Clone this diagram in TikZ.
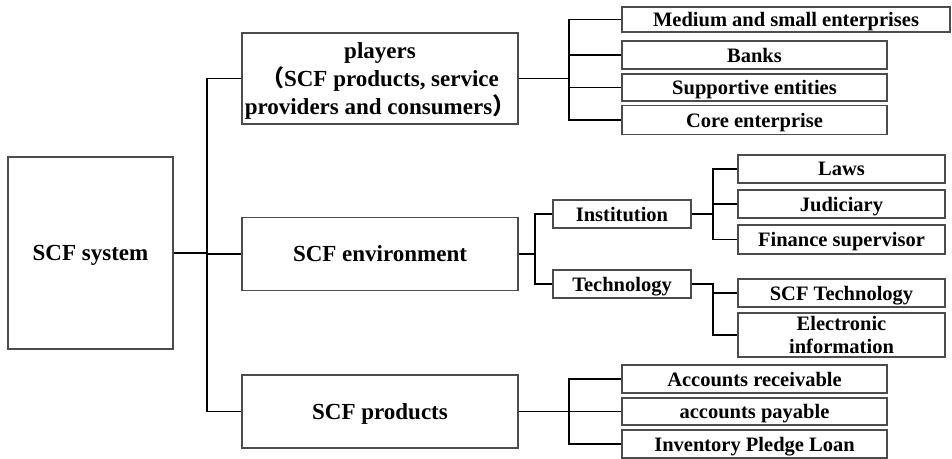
\documentclass[tikz,border=0pt]{standalone}
\usepackage{fontspec}
\setmainfont{Liberation Serif}
\newfontfamily\cjk{Noto Sans CJK SC}
\begin{document}
\begin{tikzpicture}[x=1pt,y=-1pt,
  bx/.style={draw=black!70, line width=1.1pt, inner sep=0pt, align=center, text depth=0pt,
             font=\bfseries\fontsize{20.5}{23}\selectfont},
  big/.style={bx, font=\bfseries\fontsize{23}{28}\selectfont},
  leaf/.style={bx, minimum width=265pt},
  leafb/.style={bx, minimum width=207pt},
  mid/.style={bx, minimum width=138pt, minimum height=28pt},
  ln/.style={draw=black, line width=1.6pt}]
\path[use as bounding box, fill=white] (0,0) rectangle (952,458);

% root
\node[big, minimum width=165pt, minimum height=192pt] (sys) at (90.5,253) {SCF system};

% level 1
\node[big, minimum width=276pt, minimum height=91pt] (players) at (380,78.5)
  {players\\{\cjk （}SCF products, service\\providers and consumers{\cjk ）}};
\node[big, minimum width=276pt, minimum height=73pt] (env) at (380,254) {SCF environment};
\node[big, minimum width=276pt, minimum height=73pt] (prod) at (380,411.5) {SCF products};

% players leaves
\node[bx, minimum width=328pt, minimum height=25pt] (mse) at (786,19.5) {Medium and small enterprises};
\node[leaf, minimum height=28pt] (banks) at (754.5,55) {Banks};
\node[leaf, minimum height=27pt] (supp) at (754.5,87.5) {Supportive entities};
\node[leaf, minimum height=29pt] (core) at (754.5,120) {Core enterprise};

% environment
\node[mid] (inst) at (622,214) {Institution};
\node[mid] (tech) at (622,284) {Technology};
\node[leafb, minimum height=28pt] (laws) at (841.5,169) {Laws};
\node[leafb, minimum height=28pt] (jud) at (841.5,204) {Judiciary};
\node[leafb, minimum height=29pt] (fin) at (841.5,239.5) {Finance supervisor};
\node[leafb, minimum height=28pt] (scft) at (841.5,293) {SCF Technology};
\node[leafb, minimum height=44pt] (einfo) at (841.5,335) {Electronic\\information};

% products leaves
\node[leaf, minimum height=28pt] (ar) at (754.5,379) {Accounts receivable};
\node[leaf, minimum height=27pt] (ap) at (754.5,411.5) {accounts payable};
\node[leaf, minimum height=28pt] (ipl) at (754.5,444) {Inventory Pledge Loan};

% trunk
\coordinate (tr) at (207,253);
\draw[ln] (sys.east) -- (tr);
\draw[ln] (players.west) -| (tr) |- (prod.west);
\draw[ln] (tr) -- (tr |- env.west) -- (env.west);

% players branch
\coordinate (pb) at (569,78.5);
\draw[ln] (players.east) -- (pb);
\draw[ln] (mse.west) -| (pb) |- (core.west);
\draw[ln] (banks.west) -- (banks.west -| pb);
\draw[ln] (supp.west) -- (supp.west -| pb);

% environment branch
\coordinate (eb) at (535,254);
\draw[ln] (env.east) -- (eb);
\draw[ln] (inst.west) -| (eb) |- (tech.west);

% institution branch
\coordinate (ib) at (713,214);
\draw[ln] (inst.east) -- (ib);
\draw[ln] (laws.west) -| (ib) |- (fin.west);
\draw[ln] (jud.west) -- (jud.west -| ib);

% technology branch
\coordinate (tb) at (713,284);
\draw[ln] (tech.east) -- (tb) |- (einfo.west);
\draw[ln] (scft.west) -- (scft.west -| tb);

% products branch
\coordinate (qb) at (569,411.5);
\draw[ln] (prod.east) -- (qb);
\draw[ln] (ar.west) -| (qb) |- (ipl.west);
\draw[ln] (ap.west) -- (ap.west -| qb);
\end{tikzpicture}
\end{document}
